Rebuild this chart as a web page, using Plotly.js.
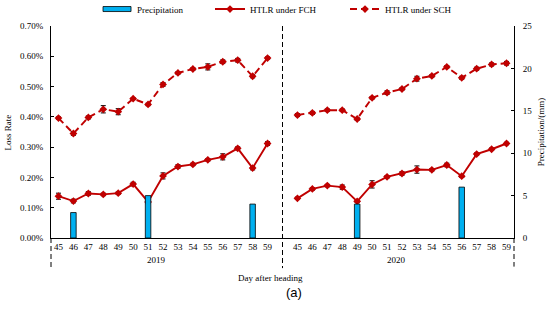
<!DOCTYPE html>
<html>
<head>
<meta charset="utf-8">
<script src="https://cdn.plot.ly/plotly-3.0.1.min.js"></script>
<style>html,body{margin:0;padding:0;background:#fff;}#chart{width:550px;height:323px;}</style>
</head>
<body>
<div id="chart"></div>
<script>
// ---- data ----
const days = [45,46,47,48,49,50,51,52,53,54,55,56,57,58,59];
const years = ['2019','2020'];
// precipitation (mm), 0 = none
const precip2019 = [0,3.0,0,0,0,0,5.0,0,0,0,0,0,0,4.0,0];
const precip2020 = [0,0,0,0,4.0,0,0,0,0,0,0,6.0,0,0,0];
// HTLR under FCH (solid, fraction)
const fch2019 = [0.00138,0.00122,0.00147,0.00144,0.00148,0.00178,0.00119,0.00205,0.00236,0.00243,0.00258,0.00268,0.00296,0.00231,0.00312];
const fch2020 = [0.00131,0.00162,0.00173,0.00168,0.00121,0.00177,0.00202,0.00213,0.00226,0.00225,0.00241,0.00204,0.00277,0.00293,0.00312];
const fchErr2019 = [0.0001,0.00006,0.00006,0.00004,0.00004,0.00006,0.00006,0.0001,0.00006,0.00004,0.00004,0.0001,0.00005,0.00006,0.00006];
const fchErr2020 = [0.00004,0.00004,0.00004,0.00007,0.00004,0.00012,0.00004,0.00006,0.00012,0.00004,0.00006,0.00004,0.00004,0.00004,0.00004];
// HTLR under SCH (dashed, fraction)
const sch2019 = [0.00396,0.00345,0.00398,0.00425,0.00417,0.00460,0.00441,0.00507,0.00545,0.00558,0.00565,0.00582,0.00587,0.00534,0.00594];
const sch2020 = [0.00406,0.00413,0.00422,0.00422,0.00393,0.00463,0.00480,0.00492,0.00526,0.00535,0.00565,0.00529,0.00559,0.00573,0.00577];
const schErr2019 = [0.00004,0.00006,0.00005,0.00012,0.0001,0.00003,0.00004,0.00006,0.00004,0.00004,0.0001,0.00006,0.00006,0.00005,0.00004];
const schErr2020 = [0.00005,0.00005,0.00004,0.00004,0.00004,0.00004,0.00006,0.00004,0.00008,0.00004,0.00004,0.00005,0.00005,0.00005,0.00006];

// ---- build series with a blank slot between years ----
const n = days.length;
const xs = [];
for (let i = 0; i < 2*n+1; i++) xs.push(i);
const join = (a, b) => a.concat([null], b);
const tickvals = xs.filter(i => i !== n);
const ticktext = days.concat(days).map(String);

const FONT = 'Liberation Serif, Times New Roman, serif';
const RED = '#C00000';

const precipY = join(precip2019, precip2020).map(v => (v === 0 ? null : v));

const traces = [
  {
    type: 'bar', name: 'Precipitation', x: xs, y: precipY, yaxis: 'y2',
    width: 0.37,
    marker: {color: '#00B0F0', line: {color: '#000', width: 0.8}},
    legend: 'legend'
  },
  {
    type: 'scatter', mode: 'lines+markers', name: 'HTLR under FCH',
    x: xs, y: join(fch2019, fch2020), connectgaps: false,
    line: {color: RED, width: 1.9},
    marker: {symbol: 'diamond', size: 6, color: RED},
    error_y: {type: 'data', array: join(fchErr2019, fchErr2020), visible: true, color: '#000', thickness: 1, width: 2.5},
    legend: 'legend2'
  },
  {
    type: 'scatter', mode: 'lines+markers', name: 'HTLR under SCH',
    x: xs, y: join(sch2019, sch2020), connectgaps: false,
    line: {color: RED, width: 1.9, dash: '7px,4px'},
    marker: {symbol: 'diamond', size: 6, color: RED},
    error_y: {type: 'data', array: join(schErr2019, schErr2020), visible: true, color: '#000', thickness: 1, width: 2.5},
    legend: 'legend3'
  }
];

const legendBase = {orientation: 'h', yanchor: 'middle', y: 1.08, xanchor: 'left',
  font: {family: FONT, size: 9, color: '#000'}, bgcolor: 'rgba(0,0,0,0)'};

const layout = {
  width: 550, height: 323,
  margin: {l: 51, r: 36, t: 26, b: 85, autoexpand: false},
  paper_bgcolor: '#fff', plot_bgcolor: '#fff',
  font: {family: FONT, size: 9, color: '#000'},
  showlegend: true,
  legend: Object.assign({}, legendBase, {x: 0.0994}),
  legend2: Object.assign({}, legendBase, {x: 0.3434}),
  legend3: Object.assign({}, legendBase, {x: 0.635}),
  bargap: 0,
  xaxis: {
    range: [-0.5, 2*n + 0.5], tickvals: tickvals, ticktext: ticktext,
    showgrid: false, zeroline: false, showline: true, linecolor: '#000', linewidth: 1,
    ticks: '', tickfont: {family: FONT, size: 9}, fixedrange: true
  },
  yaxis: {
    range: [0, 0.007], dtick: 0.001, tickformat: '.2%',
    showgrid: false, zeroline: false, showline: true, linecolor: '#000', linewidth: 1,
    ticks: 'inside', ticklen: 3, tickcolor: '#000', ticklabelstandoff: 5, tickfont: {family: FONT, size: 9}
  },
  yaxis2: {
    overlaying: 'y', side: 'right', range: [0, 25], dtick: 5,
    showgrid: false, zeroline: false, showline: true, linecolor: '#000', linewidth: 1,
    ticks: 'inside', ticklen: 3, tickcolor: '#000', ticklabelstandoff: 6, tickfont: {family: FONT, size: 9}
  },
  shapes: [
    {type: 'line', xref: 'x', yref: 'paper', x0: n, x1: n, y0: 1, y1: -0.142, line: {color: '#000', width: 1, dash: '5px,3px'}},
    {type: 'line', xref: 'paper', yref: 'paper', x0: 0, x1: 0, y0: 0, y1: -0.142, line: {color: '#000', width: 1, dash: '5px,3px'}},
    {type: 'line', xref: 'paper', yref: 'paper', x0: 1, x1: 1, y0: 0, y1: -0.135, line: {color: '#000', width: 1, dash: '5px,3px'}}
  ],
  annotations: [
    {text: years[0], xref: 'x', yref: 'paper', x: 6.55, y: -0.137, xanchor: 'center', showarrow: false, font: {family: FONT, size: 9}},
    {text: years[1], xref: 'x', yref: 'paper', x: 22.6, y: -0.137, xanchor: 'center', showarrow: false, font: {family: FONT, size: 9}},
    {text: 'Day after heading', xref: 'paper', yref: 'paper', x: 0.475, y: -0.222, xanchor: 'center', showarrow: false, font: {family: FONT, size: 9}},
    {text: '(a)', xref: 'paper', yref: 'paper', x: 0.525, y: -0.302, xanchor: 'center', showarrow: false, font: {family: 'Liberation Sans, Arial, sans-serif', size: 13}},
    {text: 'Loss Rate', xref: 'paper', yref: 'paper', x: -0.092, y: 0.5, xanchor: 'center', yanchor: 'middle', textangle: -90, showarrow: false, font: {family: FONT, size: 9}},
    {text: 'Precipitation/(mm)', xref: 'paper', yref: 'paper', x: 1.059, y: 0.5, xanchor: 'center', yanchor: 'middle', textangle: -90, showarrow: false, font: {family: FONT, size: 9}}
  ]
};

const gdEl = document.getElementById('chart');
function widenBarSwatch() {
  // flat rectangle swatch for the precipitation legend entry, as in the original
  gdEl.querySelectorAll('g.legendpoints path').forEach(p => {
    const d = p.getAttribute('d') || '';
    if (d.indexOf('M6,6H-6V-6H6Z') === 0 || p.classList.contains('legendbar')) {
      p.setAttribute('d', 'M-14,-2.5H14V2.5H-14Z');
    }
  });
}
Plotly.newPlot(gdEl, traces, layout, {displayModeBar: false, staticPlot: true}).then(gd => {
  widenBarSwatch();
  gd.on('plotly_afterplot', widenBarSwatch);
  setTimeout(widenBarSwatch, 50);
  setTimeout(widenBarSwatch, 300);
});
</script>
</body>
</html>
